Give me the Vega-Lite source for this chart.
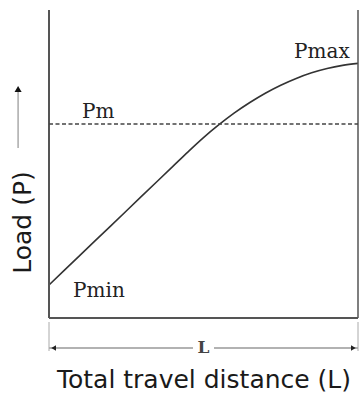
{
  "$schema": "https://vega.github.io/schema/vega-lite/v6.json",
  "autosize": {"type": "none"},
  "padding": {"left": 49, "top": 10, "right": 6, "bottom": 47},
  "width": 309,
  "height": 344,
  "background": "white",
  "config": {"view": {"stroke": null}},
  "data": {"values": [{"one": 1}]},
  "encoding": {
    "x": {"type": "quantitative", "scale": {"domain": [0, 1], "nice": false, "zero": false},
      "axis": {"title": "Total travel distance (L)", "domain": false, "ticks": false, "labels": false, "grid": false,
        "titleFont": "DejaVu Sans", "titleFontSize": 25, "titleFontWeight": "normal", "titleColor": "#1a1a1a", "titlePadding": 13}},
    "y": {"type": "quantitative", "scale": {"domain": [-36, 308], "nice": false, "zero": false},
      "axis": {"title": "Load (P)", "domain": false, "ticks": false, "labels": false, "grid": false,
        "titleFont": "DejaVu Sans", "titleFontSize": 25, "titleFontWeight": "normal", "titleColor": "#1a1a1a",
        "titleX": -19, "titleY": 212, "titleBaseline": "alphabetic", "titleAlign": "center", "titleAngle": 270}}
  },
  "layer": [
    {
      "data": {"values": [
        {"x": 0.0, "y": 33}, {"x": 0.1, "y": 62.6}, {"x": 0.2, "y": 92.2}, {"x": 0.3, "y": 121.8},
        {"x": 0.4, "y": 151.4}, {"x": 0.45, "y": 166.2}, {"x": 0.5, "y": 180.4}, {"x": 0.55, "y": 193.3},
        {"x": 0.6, "y": 205.1}, {"x": 0.65, "y": 215.5}, {"x": 0.7, "y": 224.8}, {"x": 0.75, "y": 232.8},
        {"x": 0.8, "y": 239.6}, {"x": 0.85, "y": 245.2}, {"x": 0.9, "y": 249.5}, {"x": 0.95, "y": 252.6},
        {"x": 1.0, "y": 254.6}
      ]},
      "mark": {"type": "line", "interpolate": "monotone", "stroke": "#333333", "strokeWidth": 1.6},
      "encoding": {"x": {"field": "x", "type": "quantitative"}, "y": {"field": "y", "type": "quantitative"}}
    },
    {
      "mark": {"type": "rule", "stroke": "#555555", "strokeWidth": 2},
      "encoding": {"x": {"datum": 0}, "y": {"datum": 0}, "y2": {"datum": 308}}
    },
    {
      "mark": {"type": "rule", "stroke": "#555555", "strokeWidth": 1.5},
      "encoding": {"x": {"datum": 1}, "y": {"datum": 0}, "y2": {"datum": 308}}
    },
    {
      "mark": {"type": "rule", "stroke": "#555555", "strokeWidth": 1.8},
      "encoding": {"x": {"datum": 0}, "x2": {"datum": 1}, "y": {"datum": 0}}
    },
    {
      "mark": {"type": "rule", "stroke": "#444444", "strokeWidth": 1.5, "strokeDash": [4, 2.5]},
      "encoding": {"x": {"datum": 0}, "x2": {"datum": 1}, "y": {"datum": 194}}
    },
    {
      "data": {"values": [
        {"label": "Pmax", "x": 0.793, "y": 260},
        {"label": "Pm", "x": 0.107, "y": 200},
        {"label": "Pmin", "x": 0.078, "y": 21}
      ]},
      "mark": {"type": "text", "align": "left", "baseline": "alphabetic", "font": "DejaVu Serif", "fontSize": 20, "color": "#222222"},
      "encoding": {"x": {"field": "x", "type": "quantitative"}, "y": {"field": "y", "type": "quantitative"}, "text": {"field": "label"}}
    },
    {
      "mark": {"type": "rule", "stroke": "#666666", "strokeWidth": 1.2},
      "encoding": {"x": {"datum": 0}, "x2": {"datum": 0.466}, "y": {"datum": -30}}
    },
    {
      "mark": {"type": "rule", "stroke": "#666666", "strokeWidth": 1.2},
      "encoding": {"x": {"datum": 0.534}, "x2": {"datum": 1}, "y": {"datum": -30}}
    },
    {
      "mark": {"type": "rule", "stroke": "#aaaaaa", "strokeWidth": 1},
      "encoding": {"x": {"datum": 0}, "y": {"datum": -4}, "y2": {"datum": -33}}
    },
    {
      "mark": {"type": "rule", "stroke": "#aaaaaa", "strokeWidth": 1},
      "encoding": {"x": {"datum": 1}, "y": {"datum": -4}, "y2": {"datum": -33}}
    },
    {
      "mark": {"type": "point", "shape": "triangle-left", "filled": true, "color": "#222222", "size": 30, "opacity": 1},
      "encoding": {"x": {"datum": 0.015}, "y": {"datum": -30}}
    },
    {
      "mark": {"type": "point", "shape": "triangle-right", "filled": true, "color": "#222222", "size": 30, "opacity": 1},
      "encoding": {"x": {"datum": 0.985}, "y": {"datum": -30}}
    },
    {
      "mark": {"type": "text", "text": "L", "align": "center", "baseline": "middle", "font": "DejaVu Serif", "fontSize": 17, "fontWeight": "bold", "color": "#444444"},
      "encoding": {"x": {"datum": 0.5}, "y": {"datum": -30}}
    },
    {
      "mark": {"type": "rule", "stroke": "#aaaaaa", "strokeWidth": 1.5},
      "encoding": {"x": {"datum": -0.1}, "y": {"datum": 170}, "y2": {"datum": 226}}
    },
    {
      "mark": {"type": "point", "shape": "triangle-up", "filled": true, "color": "#111111", "size": 50, "opacity": 1},
      "encoding": {"x": {"datum": -0.1}, "y": {"datum": 229}}
    }
  ]
}
